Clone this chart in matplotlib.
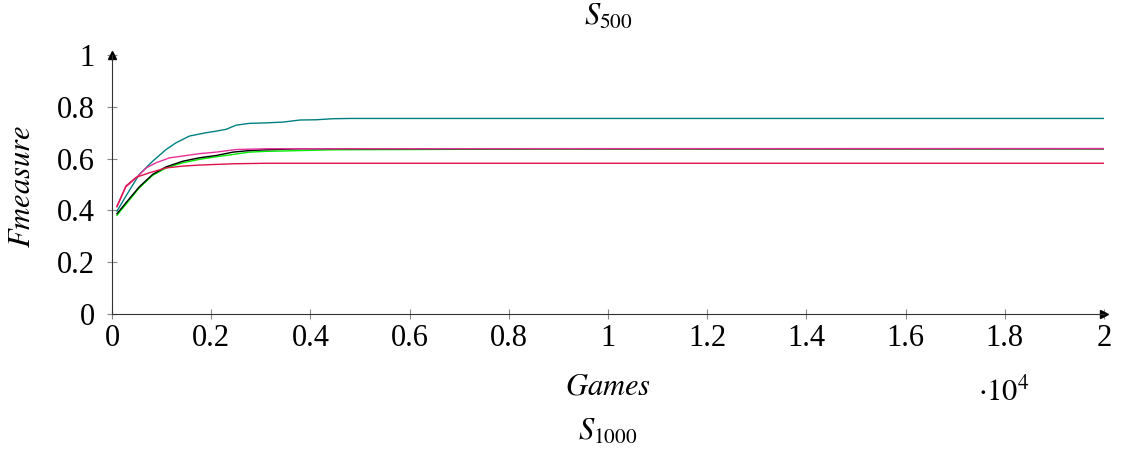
import numpy as np
import matplotlib
matplotlib.use('Agg')
import matplotlib.pyplot as plt

plt.rcParams['font.family'] = ['Liberation Serif', 'DejaVu Serif']
plt.rcParams['mathtext.fontset'] = 'stix'

# games played vs F-measure
teal_x = [100, 280, 550, 820, 1090, 1290, 1560, 1900, 2100, 2300, 2500, 2770, 3110, 3450, 3790, 4120, 4460, 4800, 20000]
teal_y = [0.397, 0.455, 0.539, 0.590, 0.635, 0.661, 0.687, 0.700, 0.706, 0.713, 0.729, 0.736, 0.738, 0.741, 0.749, 0.750, 0.754, 0.755, 0.755]

pink_x = [100, 280, 490, 690, 890, 1160, 1430, 1760, 2100, 2500, 3110, 20000]
pink_y = [0.416, 0.491, 0.526, 0.564, 0.584, 0.603, 0.610, 0.619, 0.625, 0.635, 0.638, 0.639]

red_x = [100, 280, 490, 750, 1090, 1430, 1760, 2440, 3110, 20000]
red_y = [0.414, 0.494, 0.528, 0.545, 0.564, 0.571, 0.575, 0.580, 0.582, 0.582]

black_x = [100, 280, 550, 820, 1090, 1430, 1760, 2100, 2440, 2770, 3110, 3790, 20000]
black_y = [0.387, 0.429, 0.491, 0.539, 0.568, 0.590, 0.603, 0.612, 0.625, 0.631, 0.634, 0.638, 0.638]

green_x = [100, 280, 550, 820, 1090, 1430, 1760, 2100, 2440, 2770, 3110, 3790, 4460, 6000, 8500, 20000]
green_y = [0.381, 0.423, 0.487, 0.535, 0.564, 0.584, 0.597, 0.607, 0.616, 0.625, 0.628, 0.631, 0.634, 0.635, 0.637, 0.638]

xticks = [0, 2000, 4000, 6000, 8000, 10000, 12000, 14000, 16000, 18000, 20000]
xtick_labels = ['0', '0.2', '0.4', '0.6', '0.8', '1', '1.2', '1.4', '1.6', '1.8', '2']
yticks = [0, 0.2, 0.4, 0.6, 0.8, 1]
ytick_labels = ['0', '0.2', '0.4', '0.6', '0.8', '1']

W, H = 1121., 450.
fig = plt.figure(figsize=(11.21, 4.5), dpi=100, facecolor='white')
ax = fig.add_axes([112/W, 1-314/H, (1104-112)/W, (314-55)/H])

lw = 1.0
ax.plot(teal_x, teal_y, color='#008080', lw=lw)
ax.plot(green_x, green_y, color='#00ee00', lw=lw)
ax.plot(black_x, black_y, color='black', lw=lw)
ax.plot(pink_x, pink_y, color='#e8309a', lw=lw)
ax.plot(red_x, red_y, color='#e0104a', lw=lw)

ax.set_xlim(0, 20000)
ax.set_ylim(0, 1)
ax.spines['top'].set_visible(False)
ax.spines['right'].set_visible(False)
ax.spines['left'].set_color('#333333')
ax.spines['bottom'].set_color('#333333')
ax.set_xticks(xticks)
ax.set_xticklabels(xtick_labels)
ax.set_yticks(yticks)
ax.set_yticklabels(ytick_labels)
ax.tick_params(direction='inout', length=7, width=0.8, color='#888888', labelsize=22)
ax.tick_params(axis='x', pad=4)
ax.tick_params(axis='y', pad=9)

# arrow heads at the ends of the axes
ax.plot([1], [0], marker='>', ms=6, color='black', transform=ax.transAxes, clip_on=False)
ax.plot([0], [1], marker='^', ms=6, color='black', transform=ax.transAxes, clip_on=False)

fig.text(23/W, 1-186/H, '$Fmeasure$', fontsize=22, rotation=90, ha='center', va='center')
fig.text(608/W, 1-387/H, '$Games$', fontsize=22, ha='center', va='center')
fig.text(978/W, 1-392/H, r'$\cdot 10^4$', fontsize=22, ha='left', va='center')
fig.text(608/W, 1-17/H, '$S_{500}$', fontsize=22, ha='center', va='center')
fig.text(608/W, 1-432/H, '$S_{1000}$', fontsize=22, ha='center', va='center')

plt.savefig('out.png', dpi=100)
